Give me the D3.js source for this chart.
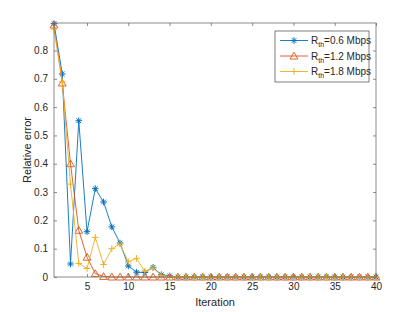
<!DOCTYPE html>
<html>
<head>
<meta charset="utf-8">
<script src="https://cdn.jsdelivr.net/npm/d3@7"></script>
<style>
  body { margin: 0; background: #fff; }
  text { font-family: "Liberation Sans", Arial, sans-serif; }
</style>
</head>
<body>
<script>
const iterations = d3.range(1, 41);
const err06 = [0.895, 0.717, 0.046, 0.552, 0.16, 0.312, 0.265, 0.177, 0.12, 0.039, 0.017, 0.016, 0.034, 0.008, 0.004,
  0, 0, 0, 0, 0, 0, 0, 0, 0, 0, 0, 0, 0, 0, 0, 0, 0, 0, 0, 0, 0, 0, 0, 0, 0];
const err12 = [0.89, 0.685, 0.40, 0.165, 0.07, 0.012, 0.002, 0, 0, 0, 0, 0, 0, 0, 0,
  0, 0, 0, 0, 0, 0, 0, 0, 0, 0, 0, 0, 0, 0, 0, 0, 0, 0, 0, 0, 0, 0, 0, 0, 0];
const err18 = [0.875, 0.69, 0.328, 0.048, 0.03, 0.14, 0.044, 0.1, 0.116, 0.054, 0.066, 0.02, 0.032, 0.005, 0.002,
  0, 0, 0, 0, 0, 0, 0, 0, 0, 0, 0, 0, 0, 0, 0, 0, 0, 0, 0, 0, 0, 0, 0, 0, 0];
const legendLabels = ["0.6 Mbps", "1.2 Mbps", "1.8 Mbps"];
const xTicks = [5, 10, 15, 20, 25, 30, 35, 40];
const yTicks = [0, 0.1, 0.2, 0.3, 0.4, 0.5, 0.6, 0.7, 0.8];

const dims = { w: 415, h: 312, l: 54, r: 376, t: 23, b: 277 };
const textColor = "#262626";
const lineColor = "#6e6e6e";

const svg = d3.select("body").append("svg")
  .attr("width", dims.w).attr("height", dims.h);

const x = d3.scaleLinear().domain([1, 40]).range([dims.l, dims.r]);
const y = d3.scaleLinear().domain([0, 0.897]).range([dims.b, dims.t]);

const series = [
  { vals: err06, color: "#0072BD", marker: "star" },
  { vals: err12, color: "#D95319", marker: "tri" },
  { vals: err18, color: "#EDB120", marker: "plus" }
];

// markers
function drawMarker(g, type, color) {
  const s = 3.3;
  if (type === "star") {
    g.append("path").attr("d", `M${-s},0H${s}M0,${-s}V${s}M${-s*0.7},${-s*0.7}L${s*0.7},${s*0.7}M${-s*0.7},${s*0.7}L${s*0.7},${-s*0.7}`)
      .attr("stroke", color).attr("stroke-width", 1).attr("fill", "none");
  } else if (type === "tri") {
    g.append("path").attr("d", `M0,${-s-0.5}L${s+0.6},${s-0.3}L${-s-0.6},${s-0.3}Z`)
      .attr("stroke", color).attr("stroke-width", 0.9).attr("fill", "none");
  } else {
    g.append("path").attr("d", `M${-s},0H${s}M0,${-s}V${s}`)
      .attr("stroke", color).attr("stroke-width", 1).attr("fill", "none");
  }
}

const line = d3.line().x((d, i) => x(iterations[i])).y(d => y(d));

series.forEach(s => {
  svg.append("path").datum(s.vals)
    .attr("d", line).attr("fill", "none")
    .attr("stroke", s.color).attr("stroke-width", 0.9);
  s.vals.forEach((v, i) => {
    const g = svg.append("g").attr("transform", `translate(${x(iterations[i])},${y(v)})`);
    drawMarker(g, s.marker, s.color);
  });
});

// box
svg.append("rect").attr("x", dims.l).attr("y", dims.t)
  .attr("width", dims.r - dims.l).attr("height", dims.b - dims.t)
  .attr("fill", "none").attr("stroke", lineColor).attr("stroke-width", 0.8);

// axes
const xAxis = svg.append("g").attr("transform", `translate(0,${dims.b})`)
  .call(d3.axisBottom(x).tickValues(xTicks).tickSize(-3).tickPadding(6));
const xTop = svg.append("g").attr("transform", `translate(0,${dims.t})`)
  .call(d3.axisTop(x).tickValues(xTicks).tickSize(-3).tickFormat(""));
const yAxis = svg.append("g").attr("transform", `translate(${dims.l},0)`)
  .call(d3.axisLeft(y).tickValues(yTicks).tickSize(-3).tickPadding(6).tickFormat(d => d === 0 ? "0" : d3.format(".1f")(d)));
const yRight = svg.append("g").attr("transform", `translate(${dims.r},0)`)
  .call(d3.axisRight(y).tickValues(yTicks).tickSize(-3).tickFormat(""));

[xAxis, xTop, yAxis, yRight].forEach(a => {
  a.select(".domain").remove();
  a.selectAll(".tick line").attr("stroke", lineColor).attr("stroke-width", 0.8);
  a.selectAll(".tick text").attr("fill", textColor).style("font-size", "10px")
    .style("font-family", "'Liberation Sans', Arial, sans-serif");
});

// axis labels
svg.append("text").attr("x", (dims.l + dims.r) / 2).attr("y", 306)
  .attr("text-anchor", "middle").attr("fill", textColor).style("font-size", "11px").text("Iteration");
svg.append("text").attr("transform", `translate(31,${(dims.t + dims.b) / 2}) rotate(-90)`)
  .attr("text-anchor", "middle").attr("fill", textColor).style("font-size", "11px").text("Relative error");

// legend
const legend = svg.append("g").attr("transform", "translate(275,31)");
legend.append("rect").attr("width", 94).attr("height", 51)
  .attr("fill", "#fff").attr("stroke", textColor).attr("stroke-width", 0.6);
series.forEach((s, i) => {
  const ly = 9.5 + i * 15.5;
  legend.append("line").attr("x1", 5).attr("x2", 33).attr("y1", ly).attr("y2", ly)
    .attr("stroke", s.color).attr("stroke-width", 0.9);
  const g = legend.append("g").attr("transform", `translate(19,${ly})`);
  drawMarker(g, s.marker, s.color);
  const t = legend.append("text").attr("x", 36).attr("y", ly + 3.5)
    .attr("fill", textColor).style("font-size", "10px");
  t.append("tspan").text("R");
  t.append("tspan").attr("dy", 3).style("font-size", "7px").text("th");
  t.append("tspan").attr("dy", -3).text("=" + legendLabels[i]);
});
</script>
</body>
</html>
